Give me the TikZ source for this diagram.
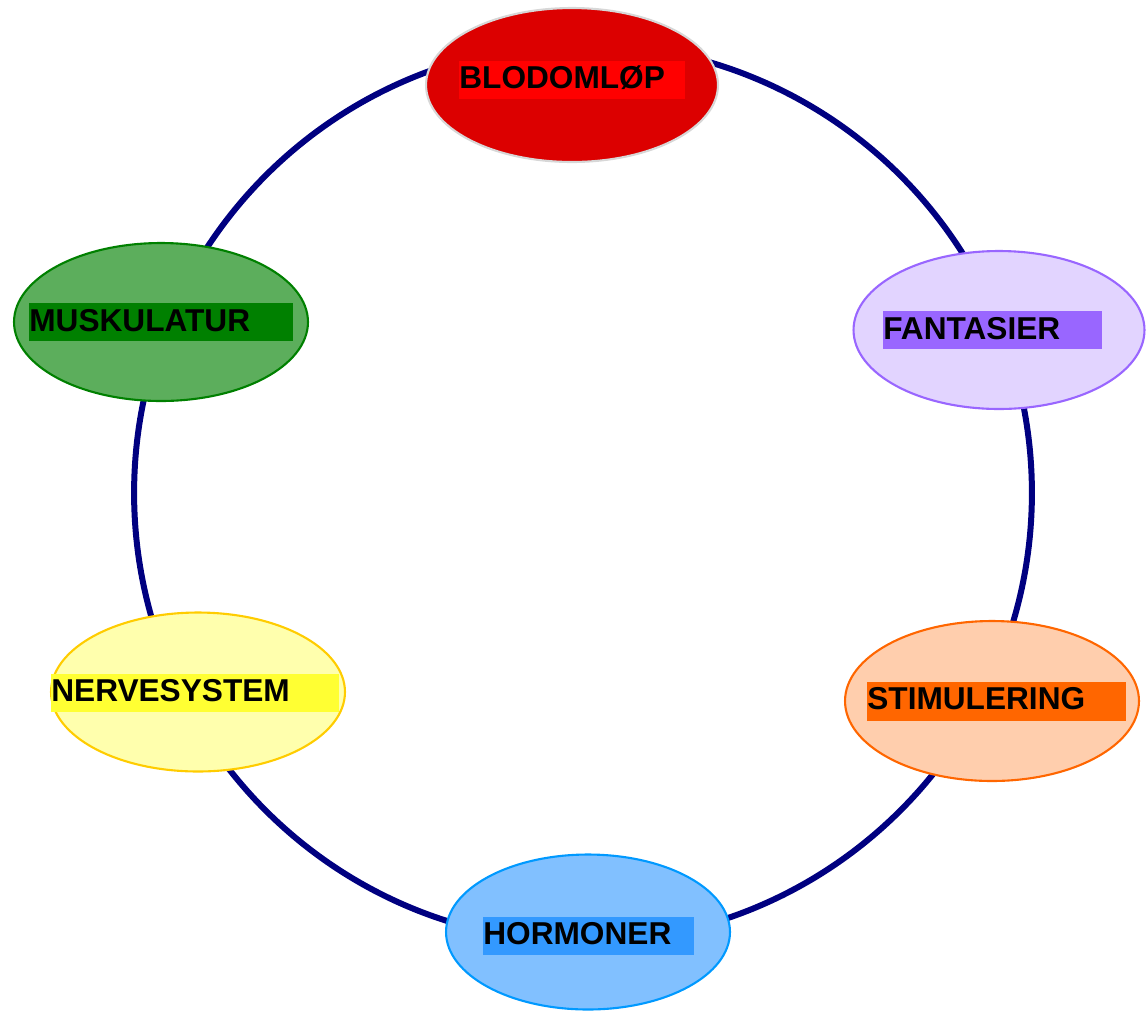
\documentclass[tikz,border=0pt]{standalone}
\usepackage{fontspec}
\setmainfont{Liberation Sans}
\usetikzlibrary{shapes.geometric}
\definecolor{ringc}{RGB}{0,0,128}
\definecolor{bloodfill}{RGB}{220,0,0}
\definecolor{bloodbox}{RGB}{255,0,0}
\definecolor{bloodedge}{RGB}{215,215,215}
\definecolor{muskc}{RGB}{0,128,0}
\definecolor{fantc}{RGB}{153,102,255}
\definecolor{nervbox}{RGB}{255,255,51}
\definecolor{nervedge}{RGB}{255,204,0}
\definecolor{stimc}{RGB}{255,102,0}
\definecolor{hormbox}{RGB}{51,153,255}
\definecolor{hormedge}{RGB}{0,153,255}
\tikzset{
  ell/.style={ellipse, inner sep=0pt, line width=1.2pt},
  lblbox/.style={rectangle, inner sep=0pt, anchor=north west},
  lbltext/.style={inner sep=0pt, anchor=base west, font=\fontsize{18}{20}\selectfont\bfseries, text=black},
}
\begin{document}
\begin{tikzpicture}[x=0.02cm, y=-0.02cm]
\useasboundingbox (0,0) rectangle (1146,1012);
\coordinate (c) at (583,493);
\draw[ringc, line width=0.12cm] (c) circle[radius=8.98cm];
% ellipses
\node[ell, draw=bloodedge, fill=bloodfill, minimum width=5.84cm, minimum height=3.08cm] (blod) at (572,85) {};
\node[ell, draw=muskc, fill=muskc!64!white, minimum width=5.88cm, minimum height=3.16cm] (musk) at (161,322) {};
\node[ell, draw=fantc, fill=fantc!28!white, minimum width=5.82cm, minimum height=3.16cm] (fant) at (999,330) {};
\node[ell, draw=nervedge, fill=nervbox!40!white, minimum width=5.88cm, minimum height=3.18cm] (nerv) at (198,692) {};
\node[ell, draw=stimc, fill=stimc!32!white, minimum width=5.88cm, minimum height=3.2cm] (stim) at (992,701) {};
\node[ell, draw=hormedge, fill=hormbox!62!white, minimum width=5.68cm, minimum height=3.1cm] (horm) at (588,932) {};
% label boxes
\node[lblbox, fill=bloodbox, minimum width=4.52cm, minimum height=0.76cm] (blodbox) at (459,61) {};
\node[lbltext] (blodtxt) at (459,88) {BLODOMLØP};
\node[lblbox, fill=muskc, minimum width=5.28cm, minimum height=0.76cm] (muskbox) at (29,303) {};
\node[lbltext] (musktxt) at (29,331) {MUSKULATUR};
\node[lblbox, fill=fantc, minimum width=4.38cm, minimum height=0.76cm] (fantbox) at (883,311) {};
\node[lbltext] (fanttxt) at (883,339) {FANTASIER};
\node[lblbox, fill=nervbox, minimum width=5.76cm, minimum height=0.76cm] (nervbox) at (51,674) {};
\node[lbltext] (nervtxt) at (51,701) {NERVESYSTEM};
\node[lblbox, fill=stimc, minimum width=5.18cm, minimum height=0.78cm] (stimbox) at (867,682) {};
\node[lbltext] (stimtxt) at (867,709) {STIMULERING};
\node[lblbox, fill=hormbox, minimum width=4.22cm, minimum height=0.76cm] (hormbox) at (483,917) {};
\node[lbltext] (hormtxt) at (483,944) {HORMONER};
\end{tikzpicture}
\end{document}
